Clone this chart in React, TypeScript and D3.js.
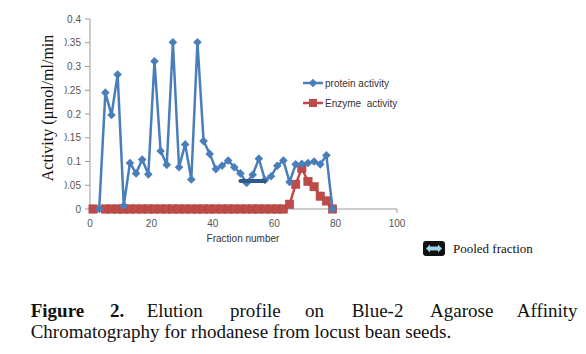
import React from "react";
import * as d3 from "d3";

const fractions = [3,5,7,9,11,13,15,17,19,21,23,25,27,29,31,33,35,37,39,41,43,45,47,49,51,53,55,57,59,61,63,65,67,69,71,73,75,77,79];
const proteinActivity = [0,0.245,0.198,0.283,0.007,0.097,0.075,0.104,0.073,0.311,0.122,0.093,0.351,0.088,0.136,0.062,0.351,0.143,0.116,0.084,0.091,0.102,0.088,0.075,0.055,0.072,0.106,0.061,0.069,0.091,0.102,0.057,0.094,0.095,0.097,0.100,0.094,0.113,0];
const enzymeFractions = [1,5,7,9,11,13,15,17,19,21,23,25,27,29,31,33,35,37,39,41,43,45,47,49,51,53,55,57,59,61,63,65,67,69,71,73,75,77,79];
const enzymeActivity = [0,0,0,0,0,0,0,0,0,0,0,0,0,0,0,0,0,0,0,0,0,0,0,0,0,0,0,0,0,0,0,0.01,0.052,0.086,0.058,0.047,0.027,0.017,0];
const pooledRange = [49, 57];
const pooledLevel = 0.059;
const yTicks = [0,0.05,0.1,0.15,0.2,0.25,0.3,0.35,0.4];
const yTickLabels = ["0","0.05","0.1","0.15","0.2","0.25","0.3","0.35","0.4"];
const xTicks = [0,20,40,60,80,100];
const seriesNames = ["protein activity", "Enzyme  activity"];
const captionLine1 = ["Figure", "2.", "Elution", "profile", "on", "Blue-2", "Agarose", "Affinity"];
const captionWordX = [30.7, 110, 146.7, 230, 305, 351.7, 430, 516.7];
const captionLine2 = "Chromatography for rhodanese from locust bean seeds.";

const BLUE = "#4A7EBB";
const RED = "#BE4B48";

export default function App() {
  const x = d3.scaleLinear().domain([0, 100]).range([90, 397]);
  const y = d3.scaleLinear().domain([0, 0.4]).range([209, 19]);
  const blueData = fractions.map((f, i) => [f, proteinActivity[i]] as [number, number]);
  const redData = enzymeFractions.map((f, i) => [f, enzymeActivity[i]] as [number, number]);
  const line = d3.line<[number, number]>().x(d => x(d[0])).y(d => y(d[1]));
  const diamond = "M0,-4.3L4.3,0L0,4.3L-4.3,0Z";
  const sans = "'Liberation Sans', Arial, sans-serif";
  const serif = "'Liberation Serif', 'Times New Roman', serif";

  return (
    <svg width={586} height={354} style={{ position: "absolute", left: 0, top: 0, background: "#fff" }}>
      <defs>
        <clipPath id="ylab"><rect x={64.5} y={0} width={40} height={240} /></clipPath>
      </defs>
      {/* axes */}
      <line x1={x(0)} x2={x(100)} y1={y(0)} y2={y(0)} stroke="#9a9a9a" strokeWidth={1} />
      {xTicks.map(t => (
        <line key={"xt" + t} x1={x(t)} x2={x(t)} y1={y(0)} y2={y(0) + 4} stroke="#9a9a9a" />
      ))}
      <line x1={x(0)} x2={x(0)} y1={y(0)} y2={y(0.4)} stroke="#9a9a9a" strokeWidth={1} />
      {yTicks.map(t => (
        <line key={"yt" + t} x1={x(0) - 5} x2={x(0)} y1={y(t)} y2={y(t)} stroke="#9a9a9a" />
      ))}
      <g clipPath="url(#ylab)">
        {yTicks.map((t, i) => (
          <text key={"yl" + t} x={81} y={y(t) + 3.5} textAnchor="end" fontFamily={sans} fontSize={10} fill="#555">
            {yTickLabels[i]}
          </text>
        ))}
      </g>
      {xTicks.map(t => (
        <text key={"xl" + t} x={x(t)} y={227} textAnchor="middle" fontFamily={sans} fontSize={10} fill="#555">{t}</text>
      ))}
      <text x={243} y={242} textAnchor="middle" fontFamily={sans} fontSize={10} fill="#333">Fraction number</text>
      <text transform={`translate(53,108) rotate(-90)`} textAnchor="middle" fontFamily={serif} fontSize={16} fill="#111">
        Activity (µmol/ml/min
      </text>

      {/* enzyme series */}
      <path d={line(redData) || ""} fill="none" stroke={RED} strokeWidth={2.5} />
      {redData.map((d, i) => (
        <rect key={"r" + i} x={x(d[0]) - 4.2} y={y(d[1]) - 4.2} width={8.4} height={8.4} fill={RED} stroke="#a94341" strokeWidth={0.5} />
      ))}
      {/* protein series */}
      <path d={line(blueData) || ""} fill="none" stroke={BLUE} strokeWidth={2.5} strokeLinejoin="round" />
      {blueData.map((d, i) => (
        <path key={"b" + i} d={diamond} transform={`translate(${x(d[0])},${y(d[1])})`} fill={BLUE} />
      ))}
      {/* pooled fraction bar */}
      <line x1={x(pooledRange[0])} x2={x(pooledRange[1])} y1={y(pooledLevel)} y2={y(pooledLevel)} stroke="#2F5B8C" strokeWidth={4} strokeLinecap="round" />

      {/* legend */}
      <line x1={303} x2={323} y1={83} y2={83} stroke={BLUE} strokeWidth={2.5} />
      <path d={diamond} transform="translate(313,83)" fill={BLUE} />
      <text x={325} y={86.5} fontFamily={sans} fontSize={10} fill="#333">{seriesNames[0]}</text>
      <line x1={303} x2={323} y1={103} y2={103} stroke={RED} strokeWidth={2.5} />
      <rect x={309} y={99} width={8} height={8} fill={RED} />
      <text x={325} y={106.5} fontFamily={sans} fontSize={10} fill="#333" style={{ whiteSpace: "pre" }}>{seriesNames[1]}</text>

      {/* pooled fraction legend */}
      <rect x={423} y={241} width={22} height={15} rx={3} fill="#111" />
      <path d="M426,248.5 L430,244.5 L430,246.5 L438,246.5 L438,244.5 L442,248.5 L438,252.5 L438,250.5 L430,250.5 L430,252.5 Z" fill="#9fd3ea" />
      <text x={453} y={253} fontFamily={serif} fontSize={13} fill="#111">Pooled fraction</text>

      {/* caption */}
      {captionLine1.map((w, i) => (
        <text key={"c" + i} x={captionWordX[i]} y={316.7} fontFamily={serif} fontSize={19} fontWeight={i < 2 ? "bold" : "normal"} fill="#111">{w}</text>
      ))}
      <text x={30.7} y={338.3} fontFamily={serif} fontSize={19} fill="#111">{captionLine2}</text>
    </svg>
  );
}
